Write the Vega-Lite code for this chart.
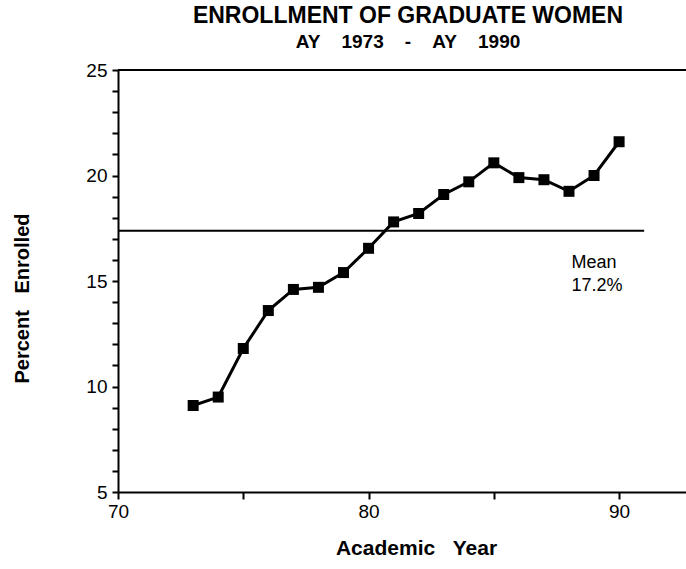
{
  "$schema": "https://vega.github.io/schema/vega-lite/v6.json",
  "width": 568,
  "height": 422,
  "autosize": "none",
  "padding": {"left": 118, "top": 70, "right": 0, "bottom": 77},
  "background": "white",
  "config": {
    "view": {"stroke": null},
    "font": "Liberation Sans",
    "axis": {"grid": false, "domainColor": "black", "domainWidth": 2, "tickColor": "black", "tickWidth": 2, "labelColor": "black", "titleColor": "black", "labelFont": "Liberation Sans", "titleFont": "Liberation Sans", "labelFlush": false, "labelOverlap": false, "labelFontSize": 19}
  },
  "title": {
    "text": "ENROLLMENT OF GRADUATE WOMEN",
    "subtitle": "AY\u00a0\u00a0\u00a0\u00a01973\u00a0\u00a0\u00a0\u00a0-\u00a0\u00a0\u00a0\u00a0AY\u00a0\u00a0\u00a0\u00a01990",
    "fontSize": 23,
    "fontWeight": "bold",
    "subtitleFontSize": 19,
    "subtitleFontWeight": "bold",
    "subtitleColor": "black",
    "color": "black",
    "subtitlePadding": 5,
    "offset": 9,
    "dx": 6,
    "anchor": "middle"
  },
  "datasets": {
    "series": [
      {"x": 73, "y": 9.1},
      {"x": 74, "y": 9.5},
      {"x": 75, "y": 11.8},
      {"x": 76, "y": 13.6},
      {"x": 77, "y": 14.6},
      {"x": 78, "y": 14.7},
      {"x": 79, "y": 15.4},
      {"x": 80, "y": 16.55},
      {"x": 81, "y": 17.8},
      {"x": 82, "y": 18.2},
      {"x": 83, "y": 19.1},
      {"x": 84, "y": 19.7},
      {"x": 85, "y": 20.6},
      {"x": 86, "y": 19.9},
      {"x": 87, "y": 19.8},
      {"x": 88, "y": 19.25},
      {"x": 89, "y": 20.0},
      {"x": 90, "y": 21.6}
    ],
    "mean": [{"x": 70, "x2": 91, "y": 17.38}],
    "note": [{"x": 88.1, "y": 15.85, "label": ["Mean", "17.2%"]}],
    "top": [{"x": 70, "x2": 92.67, "y": 25}]
  },
  "encoding": {
    "x": {
      "field": "x", "type": "quantitative",
      "scale": {"domain": [70, 92.67], "nice": false, "zero": false},
      "axis": {
        "values": [70, 75, 80, 85, 90],
        "labelExpr": "datum.value % 10 === 0 ? datum.label : ''",
        "labelOverlap": false,
        "tickSize": 7,
        "labelFontSize": 19,
        "labelPadding": 3,
        "title": "Academic\u00a0\u00a0\u00a0Year",
        "titleFontSize": 21,
        "titleFontWeight": "bold",
        "titlePadding": 16,
        "titleX": 298
      }
    },
    "y": {
      "field": "y", "type": "quantitative",
      "scale": {"domain": [5, 25], "nice": false, "zero": false},
      "axis": {
        "values": [5, 6, 7, 8, 9, 10, 11, 12, 13, 14, 15, 16, 17, 18, 19, 20, 21, 22, 23, 24, 25],
        "labelExpr": "datum.value % 5 === 0 ? datum.label : ''",
        "labelOverlap": false,
        "tickSize": 6,
        "labelFontSize": 19,
        "labelPadding": 5,
        "title": "Percent\u00a0\u00a0\u00a0Enrolled",
        "titleFontSize": 20,
        "titleFontWeight": "bold",
        "titleX": -86,
        "titleY": 228
      }
    }
  },
  "layer": [
    {
      "data": {"name": "series"},
      "mark": {"type": "line", "color": "black", "strokeWidth": 3}
    },
    {
      "data": {"name": "top"},
      "mark": {"type": "rule", "color": "black", "strokeWidth": 2},
      "encoding": {"x2": {"field": "x2"}}
    },
    {
      "data": {"name": "mean"},
      "mark": {"type": "rule", "color": "black", "strokeWidth": 2},
      "encoding": {"x2": {"field": "x2"}}
    },
    {
      "data": {"name": "series"},
      "mark": {"type": "point", "shape": "square", "filled": true, "color": "black", "opacity": 1, "size": 121}
    },
    {
      "data": {"name": "note"},
      "mark": {"type": "text", "align": "left", "baseline": "middle", "fontSize": 18, "lineHeight": 23, "color": "black"},
      "encoding": {"text": {"field": "label"}}
    }
  ]
}
